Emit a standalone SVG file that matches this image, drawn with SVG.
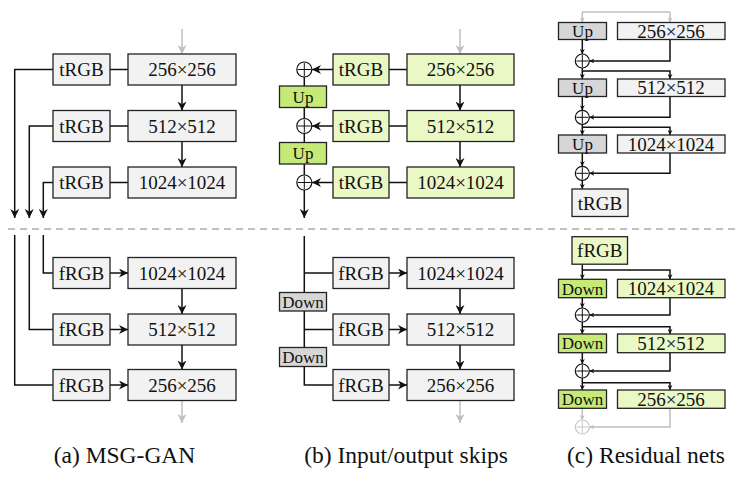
<svg xmlns="http://www.w3.org/2000/svg" width="737" height="478" viewBox="0 0 737 478">
<style>
.bx{stroke:#222;stroke-width:1.3}
.g{fill:#f2f2f2}
.lg{fill:#eaf8c6}
.bg{fill:#c6ea78}
.dg{fill:#d6d6d6}
.t{font-family:"Liberation Serif","Times New Roman",serif;font-size:19px;fill:#111;text-anchor:middle}
.s{font-size:17px}
.cap{font-family:"Liberation Serif","Times New Roman",serif;font-size:23.5px;fill:#111;text-anchor:middle}
.c{fill:none;stroke:#111;stroke-width:1.5}
.cg{fill:none;stroke:#bfbfbf;stroke-width:1.5}
.ci{fill:#fff;stroke:#111;stroke-width:1.2}
.cig{fill:#fff;stroke:#c8c8c8;stroke-width:1.2}
</style>
<defs>
<marker id="ah" viewBox="0 0 10 10" refX="10" refY="5" markerWidth="9" markerHeight="9" markerUnits="userSpaceOnUse" orient="auto"><path d="M0,0 L10,5 L0,10 L3,5 z" fill="#111"/></marker>
<marker id="ahg" viewBox="0 0 10 10" refX="10" refY="5" markerWidth="9" markerHeight="9" markerUnits="userSpaceOnUse" orient="auto"><path d="M0,0 L10,5 L0,10 L3,5 z" fill="#bfbfbf"/></marker>
<marker id="as" viewBox="0 0 10 10" refX="10" refY="5" markerWidth="5" markerHeight="5" markerUnits="userSpaceOnUse" orient="auto"><path d="M0,0 L10,5 L0,10 L3,5 z" fill="#111"/></marker>
<marker id="asg" viewBox="0 0 10 10" refX="10" refY="5" markerWidth="5" markerHeight="5" markerUnits="userSpaceOnUse" orient="auto"><path d="M0,0 L10,5 L0,10 L3,5 z" fill="#bfbfbf"/></marker>
</defs>
<rect width="737" height="478" fill="#fff"/>
<line x1="8" y1="229" x2="737" y2="229" stroke="#aaa" stroke-width="1.5" stroke-dasharray="7 5"/>

<g id="connectors">
<!-- panel a top -->
<path class="cg" d="M182,29 V54" marker-end="url(#ahg)"/>
<path class="c" d="M182,85 V110.5" marker-end="url(#ah)"/>
<path class="c" d="M182,141.5 V167" marker-end="url(#ah)"/>
<path class="c" d="M110,69.5 H128 M110,126 H128 M110,182.5 H128"/>
<path class="c" d="M53,69.5 H14.7 V218" marker-end="url(#ah)"/>
<path class="c" d="M53,126 H29.3 V218" marker-end="url(#ah)"/>
<path class="c" d="M53,182.5 H43.3 V218" marker-end="url(#ah)"/>
<!-- panel a bottom -->
<path class="c" d="M43.3,235 V273 H53 M29.3,235 V329.5 H53 M14.7,235 V385 H53"/>
<path class="c" d="M110,273 H128" marker-end="url(#ah)"/>
<path class="c" d="M110,329.5 H128" marker-end="url(#ah)"/>
<path class="c" d="M110,385 H128" marker-end="url(#ah)"/>
<path class="c" d="M182,288.5 V314" marker-end="url(#ah)"/>
<path class="c" d="M182,345 V369.5" marker-end="url(#ah)"/>
<path class="cg" d="M182,400.5 V423" marker-end="url(#ahg)"/>
<!-- panel b top -->
<path class="cg" d="M460,29 V54" marker-end="url(#ahg)"/>
<path class="c" d="M460,85 V110.5" marker-end="url(#ah)"/>
<path class="c" d="M460,141.5 V167" marker-end="url(#ah)"/>
<path class="c" d="M389,69.5 H407 M389,126 H407 M389,182.5 H407"/>
<path class="c" d="M333,69.5 H312" marker-end="url(#ah)"/>
<path class="c" d="M333,126 H312" marker-end="url(#ah)"/>
<path class="c" d="M333,182.5 H312" marker-end="url(#ah)"/>
<path class="c" d="M304.3,77 V86 M304.3,107.5 V118.5 M304.3,133.5 V142.5 M304.3,164 V175"/>
<path class="c" d="M304.3,190 V218" marker-end="url(#ah)"/>
<!-- panel b bottom -->
<path class="c" d="M304.3,236 V385 H333 M304.3,273 H333 M304.3,329.5 H333"/>
<path class="c" d="M389,273 H407" marker-end="url(#ah)"/>
<path class="c" d="M389,329.5 H407" marker-end="url(#ah)"/>
<path class="c" d="M389,385 H407" marker-end="url(#ah)"/>
<path class="c" d="M460,288.5 V314" marker-end="url(#ah)"/>
<path class="c" d="M460,345 V369.5" marker-end="url(#ah)"/>
<path class="cg" d="M460,400.5 V423" marker-end="url(#ahg)"/>
<!-- panel c top -->
<path class="cg" d="M582.3,12 H670"/>
<path class="cg" d="M582.3,12 V22.5" marker-end="url(#asg)"/>
<path class="cg" d="M670,12 V22.5" marker-end="url(#asg)"/>
<path class="c" d="M582.3,39.5 V54" marker-end="url(#as)"/>
<path class="c" d="M670,39.5 V61 H589.3" marker-end="url(#as)"/>
<path class="c" d="M582.3,68 V79" marker-end="url(#as)"/>
<path class="c" d="M582.3,71 H670 V79" marker-end="url(#as)"/>
<path class="c" d="M582.3,96.5 V110.3" marker-end="url(#as)"/>
<path class="c" d="M670,96.5 V117.3 H589.3" marker-end="url(#as)"/>
<path class="c" d="M582.3,124.3 V135" marker-end="url(#as)"/>
<path class="c" d="M582.3,127.3 H670 V135" marker-end="url(#as)"/>
<path class="c" d="M582.3,153 V166.3" marker-end="url(#as)"/>
<path class="c" d="M670,153 V173.3 H589.3" marker-end="url(#as)"/>
<path class="c" d="M582.3,180.3 V189" marker-end="url(#as)"/>
<!-- panel c bottom -->
<path class="c" d="M582.3,264.3 V279.3" marker-end="url(#as)"/>
<path class="c" d="M582.3,270 H670 V279.3" marker-end="url(#as)"/>
<path class="c" d="M582.3,297.7 V308" marker-end="url(#as)"/>
<path class="c" d="M670,297.7 V315 H589.3" marker-end="url(#as)"/>
<path class="c" d="M582.3,322 V334" marker-end="url(#as)"/>
<path class="c" d="M582.3,326.7 H670 V334" marker-end="url(#as)"/>
<path class="c" d="M582.3,352.7 V364" marker-end="url(#as)"/>
<path class="c" d="M670,352.7 V371 H589.3" marker-end="url(#as)"/>
<path class="c" d="M582.3,378 V390" marker-end="url(#as)"/>
<path class="c" d="M582.3,382.7 H670 V390" marker-end="url(#as)"/>
<path class="cg" d="M582.3,408.3 V420" marker-end="url(#asg)"/>
<path class="cg" d="M670,408.3 V427 H589.3" marker-end="url(#asg)"/>
</g>

<!-- panel a nodes -->
<g id="a_trgb1"><rect class="bx g" x="53" y="54" width="57" height="31"/><text class="t" x="81.5" y="76">tRGB</text></g>
<g id="a_256"><rect class="bx g" x="128" y="54" width="108" height="31"/><text class="t" x="182" y="76">256×256</text></g>
<g id="a_trgb2"><rect class="bx g" x="53" y="110.5" width="57" height="31"/><text class="t" x="81.5" y="132.5">tRGB</text></g>
<g id="a_512"><rect class="bx g" x="128" y="110.5" width="108" height="31"/><text class="t" x="182" y="132.5">512×512</text></g>
<g id="a_trgb3"><rect class="bx g" x="53" y="167" width="57" height="31"/><text class="t" x="81.5" y="189">tRGB</text></g>
<g id="a_1024"><rect class="bx g" x="128" y="167" width="108" height="31"/><text class="t" x="182" y="189">1024×1024</text></g>
<g id="a_frgb1"><rect class="bx g" x="53" y="257.5" width="57" height="31"/><text class="t" x="81.5" y="279.5">fRGB</text></g>
<g id="a_d1024"><rect class="bx g" x="128" y="257.5" width="108" height="31"/><text class="t" x="182" y="279.5">1024×1024</text></g>
<g id="a_frgb2"><rect class="bx g" x="53" y="314" width="57" height="31"/><text class="t" x="81.5" y="336">fRGB</text></g>
<g id="a_d512"><rect class="bx g" x="128" y="314" width="108" height="31"/><text class="t" x="182" y="336">512×512</text></g>
<g id="a_frgb3"><rect class="bx g" x="53" y="369.5" width="57" height="31"/><text class="t" x="81.5" y="391.5">fRGB</text></g>
<g id="a_d256"><rect class="bx g" x="128" y="369.5" width="108" height="31"/><text class="t" x="182" y="391.5">256×256</text></g>

<!-- panel b nodes -->
<g id="b_trgb1"><rect class="bx lg" x="333" y="54" width="56" height="31"/><text class="t" x="361" y="76">tRGB</text></g>
<g id="b_256"><rect class="bx lg" x="407" y="54" width="107" height="31"/><text class="t" x="460.5" y="76">256×256</text></g>
<g id="b_trgb2"><rect class="bx lg" x="333" y="110.5" width="56" height="31"/><text class="t" x="361" y="132.5">tRGB</text></g>
<g id="b_512"><rect class="bx lg" x="407" y="110.5" width="107" height="31"/><text class="t" x="460.5" y="132.5">512×512</text></g>
<g id="b_trgb3"><rect class="bx lg" x="333" y="167" width="56" height="31"/><text class="t" x="361" y="189">tRGB</text></g>
<g id="b_1024"><rect class="bx lg" x="407" y="167" width="107" height="31"/><text class="t" x="460.5" y="189">1024×1024</text></g>
<g id="b_sum1"><circle class="ci" cx="304.3" cy="69.5" r="7.5"/><path class="c" style="stroke-width:1" d="M297.8,69.5 H310.8 M304.3,63 V76"/></g>
<g id="b_sum2"><circle class="ci" cx="304.3" cy="126" r="7.5"/><path class="c" style="stroke-width:1" d="M297.8,126 H310.8 M304.3,119.5 V132.5"/></g>
<g id="b_sum3"><circle class="ci" cx="304.3" cy="182.5" r="7.5"/><path class="c" style="stroke-width:1" d="M297.8,182.5 H310.8 M304.3,176 V189"/></g>
<g id="b_up1"><rect class="bx bg" x="279.5" y="86" width="47" height="21.5"/><text class="t s" x="303" y="102.5">Up</text></g>
<g id="b_up2"><rect class="bx bg" x="279.5" y="142.5" width="47" height="21.5"/><text class="t s" x="303" y="159">Up</text></g>
<g id="b_frgb1"><rect class="bx g" x="333" y="257.5" width="56" height="31"/><text class="t" x="361" y="279.5">fRGB</text></g>
<g id="b_d1024"><rect class="bx g" x="407" y="257.5" width="107" height="31"/><text class="t" x="460.5" y="279.5">1024×1024</text></g>
<g id="b_frgb2"><rect class="bx g" x="333" y="314" width="56" height="31"/><text class="t" x="361" y="336">fRGB</text></g>
<g id="b_d512"><rect class="bx g" x="407" y="314" width="107" height="31"/><text class="t" x="460.5" y="336">512×512</text></g>
<g id="b_frgb3"><rect class="bx g" x="333" y="369.5" width="56" height="31"/><text class="t" x="361" y="391.5">fRGB</text></g>
<g id="b_d256"><rect class="bx g" x="407" y="369.5" width="107" height="31"/><text class="t" x="460.5" y="391.5">256×256</text></g>
<g id="b_down1"><rect class="bx dg" x="279.5" y="292.5" width="47" height="18.5"/><text class="t s" x="303" y="307.5">Down</text></g>
<g id="b_down2"><rect class="bx dg" x="279.5" y="347.5" width="47" height="19"/><text class="t s" x="303" y="362.5">Down</text></g>

<!-- panel c nodes -->
<g id="c_up1"><rect class="bx dg" x="558.5" y="22.5" width="48" height="17"/><text class="t s" x="582.5" y="37">Up</text></g>
<g id="c_256"><rect class="bx g" x="617.5" y="22.5" width="107.5" height="17"/><text class="t" x="671" y="37.5">256×256</text></g>
<g id="c_sum1"><circle class="ci" cx="582.3" cy="61" r="7"/><path class="c" style="stroke-width:1" d="M576.3,61 H588.3 M582.3,55 V67"/></g>
<g id="c_up2"><rect class="bx dg" x="558.5" y="79" width="48" height="17.5"/><text class="t s" x="582.5" y="93.5">Up</text></g>
<g id="c_512"><rect class="bx g" x="617.5" y="79" width="107.5" height="17.5"/><text class="t" x="671" y="94">512×512</text></g>
<g id="c_sum2"><circle class="ci" cx="582.3" cy="117.3" r="7"/><path class="c" style="stroke-width:1" d="M576.3,117.3 H588.3 M582.3,111.3 V123.3"/></g>
<g id="c_up3"><rect class="bx dg" x="558.5" y="135" width="48" height="18"/><text class="t s" x="582.5" y="149.5">Up</text></g>
<g id="c_1024"><rect class="bx g" x="617.5" y="135" width="107.5" height="18"/><text class="t" x="671" y="150.5">1024×1024</text></g>
<g id="c_sum3"><circle class="ci" cx="582.3" cy="173.3" r="7"/><path class="c" style="stroke-width:1" d="M576.3,173.3 H588.3 M582.3,167.3 V179.3"/></g>
<g id="c_trgb"><rect class="bx g" x="572" y="189" width="56" height="27.5"/><text class="t" x="600" y="209.5">tRGB</text></g>
<g id="c_frgb"><rect class="bx lg" x="572" y="236.7" width="55.5" height="27.5"/><text class="t" x="599.8" y="257">fRGB</text></g>
<g id="c_down1"><rect class="bx bg" x="558.5" y="279.3" width="48" height="18.4"/><text class="t s" x="582.5" y="294.5">Down</text></g>
<g id="c_d1024"><rect class="bx lg" x="617.5" y="279.3" width="107.5" height="18.4"/><text class="t" x="671" y="295">1024×1024</text></g>
<g id="c_sum4"><circle class="ci" cx="582.3" cy="315" r="7"/><path class="c" style="stroke-width:1" d="M576.3,315 H588.3 M582.3,309 V321"/></g>
<g id="c_down2"><rect class="bx bg" x="558.5" y="334" width="48" height="18.7"/><text class="t s" x="582.5" y="349.3">Down</text></g>
<g id="c_d512"><rect class="bx lg" x="617.5" y="334" width="107.5" height="18.7"/><text class="t" x="671" y="350">512×512</text></g>
<g id="c_sum5"><circle class="ci" cx="582.3" cy="371" r="7"/><path class="c" style="stroke-width:1" d="M576.3,371 H588.3 M582.3,365 V377"/></g>
<g id="c_down3"><rect class="bx bg" x="558.5" y="390" width="48" height="18.3"/><text class="t s" x="582.5" y="405">Down</text></g>
<g id="c_d256"><rect class="bx lg" x="617.5" y="390" width="107.5" height="18.3"/><text class="t" x="671" y="405.5">256×256</text></g>
<g id="c_sum6"><circle class="cig" cx="582.3" cy="427" r="7"/><path class="cg" style="stroke-width:1;stroke:#c8c8c8" d="M576.3,427 H588.3 M582.3,421 V433"/></g>

<!-- captions -->
<text class="cap" x="124.5" y="463">(a) MSG-GAN</text>
<text class="cap" x="406" y="463">(b) Input/output skips</text>
<text class="cap" x="646" y="463">(c) Residual nets</text>
</svg>
